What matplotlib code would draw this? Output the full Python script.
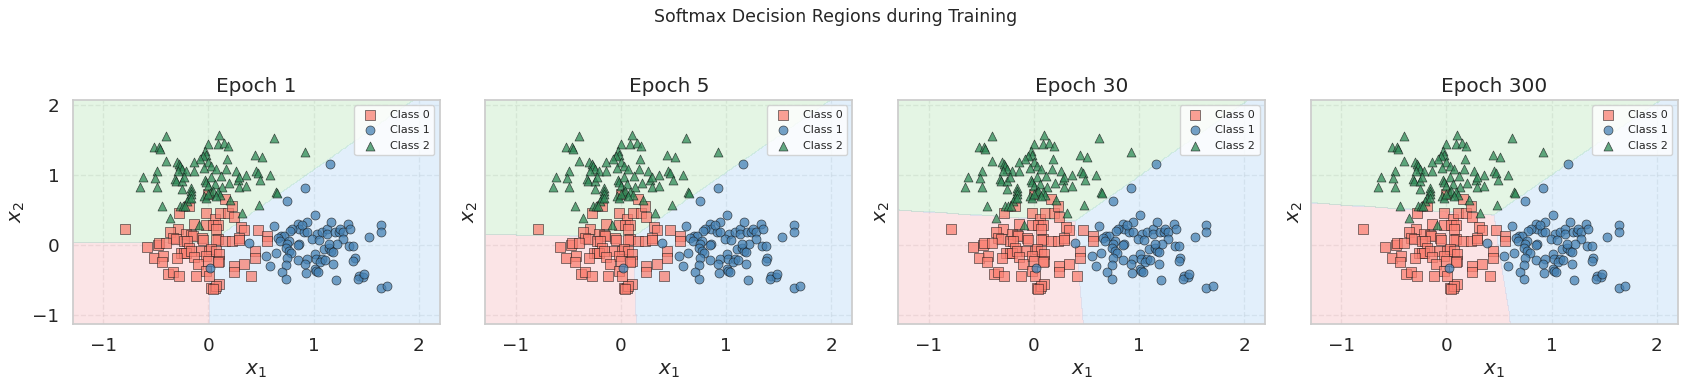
import numpy as np
import matplotlib
matplotlib.use('Agg')
import matplotlib.pyplot as plt
import seaborn as sns

sns.set_theme(style="whitegrid", font_scale=1.2)
plt.rcParams['font.family'] = ['DejaVu Sans']

# points (same data in every panel)
class0_x = [-0.79, -0.28, -0.18, -0.02, 0.00, 0.06, 0.11, 0.19, 0.16, 0.23, 0.24,
            -0.14, -0.02, 0.04, 0.09, 0.07, 0.31, 0.34, 0.47, 0.56, 0.56,
            -0.29, -0.36, -0.34, -0.31, -0.21, -0.16, -0.15, -0.06, -0.05,
            -0.23, -0.20, 0.09, 0.07, 0.16, 0.23, 0.29, 0.29,
            -0.58, -0.48, -0.47, -0.40, -0.18,
            -0.26, -0.23, -0.21, -0.16, -0.07, 0.01, 0.03, 0.07, 0.10, -0.02, 0.44, 0.44,
            -0.52, -0.43, -0.44, -0.30, -0.14, -0.10, 0.00, 0.10, 0.09,
            0.24, 0.24, 0.34,
            -0.38, -0.34, -0.28, -0.12, -0.02, 0.01, 0.41,
            0.03, 0.06, 0.10, 0.07, 0.04]
class0_y = [0.23, 0.45, 0.55, 0.46, 0.73, 0.37, 0.45, 0.46, 0.65, 0.56, 0.40,
            0.30, 0.28, 0.28, 0.28, 0.22, 0.26, 0.21, 0.21, 0.12, 0.06,
            0.22, 0.18, 0.10, 0.09, 0.16, 0.14, 0.13, 0.10, 0.07,
            0.06, 0.06, 0.08, 0.07, 0.06, 0.05, 0.10, 0.07,
            -0.03, 0.00, 0.03, 0.03, -0.04,
            -0.12, -0.12, -0.11, -0.09, -0.09, -0.09, -0.06, -0.09, -0.13, -0.16, -0.09, -0.18,
            -0.18, -0.16, -0.24, -0.19, -0.17, -0.27, -0.23, -0.23, -0.25,
            -0.30, -0.39, -0.27,
            -0.42, -0.39, -0.44, -0.45, -0.37, -0.44, -0.45,
            -0.61, -0.61, -0.56, -0.58, -0.63]

class1_x = [1.16, 0.92, 0.75, 1.01, 0.62, 0.39, 0.02,
            0.85, 0.94, 0.86, 0.80, 0.78, 0.91, 0.94, 0.89,
            0.69, 0.72, 0.66, 0.68,
            1.03, 1.08, 1.13, 1.17, 1.13, 1.20, 1.24, 1.25, 1.28, 1.33, 1.35, 1.28,
            1.64, 1.64, 1.53,
            0.99, 1.05, 0.86, 0.85, 0.77,
            0.75, 0.74, 0.77, 0.79,
            0.64, 0.55,
            0.75, 0.85, 0.94, 1.01, 1.02,
            1.10, 1.15, 1.17, 1.19, 1.22, 1.15,
            1.08, 1.06, 1.01, 1.02, 1.04, 1.11,
            1.19, 0.74, 0.70, 0.74, 0.59,
            0.93, 0.92, 1.21,
            1.34, 1.38, 1.39, 1.38,
            1.43, 1.47, 1.42, 1.48,
            1.64, 1.70]
class1_y = [1.16, 0.81, 0.62, 0.42, 0.27, 0.03, -0.33,
            0.30, 0.32, 0.22, 0.23, 0.20, 0.18, 0.18, 0.28,
            0.13, 0.12, 0.10, 0.06,
            0.16, 0.18, 0.22, 0.32, 0.15, 0.18, 0.18, 0.23, 0.18, 0.30, 0.22, 0.08,
            0.29, 0.18, 0.11,
            0.08, 0.07, 0.02, 0.00, 0.06,
            0.01, -0.04, -0.09, -0.11,
            -0.11, -0.16,
            -0.19, -0.22, -0.20, -0.13, -0.20,
            -0.06, -0.05, -0.09, -0.10, 0.02, 0.02,
            -0.20, -0.25, -0.35, -0.37, -0.39, -0.22,
            -0.27, -0.29, -0.38, -0.49, -0.30,
            -0.40, -0.27, -0.50,
            -0.01, -0.01, -0.19, -0.23,
            -0.44, -0.46, -0.48, -0.41,
            -0.62, -0.59]

class2_x = [-0.40, 0.10, 0.62, 0.92,
            -0.52, -0.47, -0.46,
            0.00, 0.09, 0.15, 0.19,
            -0.03, -0.02, -0.05, -0.08,
            0.44, 0.51,
            -0.40, -0.30, -0.28, -0.27,
            -0.14, 0.00, 0.03, -0.04, 0.18,
            -0.25, -0.21, -0.29, -0.49, -0.14,
            0.07, 0.17, 0.26, 0.45, 0.47, 0.59,
            -0.62, -0.51, -0.32, -0.31, -0.25, -0.23,
            -0.03, -0.02, 0.03, 0.12, 0.20, 0.28, 0.36, 0.29, 0.49,
            -0.65, -0.49, -0.25, -0.16, -0.16, 0.00, 0.06, 0.13, 0.29, 0.36,
            0.64, 0.65,
            -0.16, 0.02, 0.04, 0.09, 0.11, 0.07,
            -0.18, -0.20, -0.16, -0.04, -0.02, 0.00,
            -0.27, -0.24, -0.44, -0.22,
            0.21, 0.48, -0.36, 0.32, -0.09]
class2_y = [1.55, 1.57, 1.52, 1.33,
            1.40, 1.40, 1.37,
            1.44, 1.44, 1.45, 1.41,
            1.34, 1.28, 1.27, 1.22,
            1.28, 1.25,
            1.20, 1.19, 1.16, 1.13,
            1.18, 1.18, 1.13, 1.10, 1.23,
            1.08, 1.06, 1.05, 1.06, 1.06,
            1.08, 1.08, 1.05, 1.05, 1.03, 1.00,
            0.97, 0.96, 0.94, 0.91, 0.91, 0.97,
            0.93, 0.90, 0.97, 0.98, 0.89, 0.93, 1.00, 0.97, 0.92,
            0.82, 0.82, 0.80, 0.81, 0.77, 0.84, 0.87, 0.82, 0.82, 0.84,
            0.76, 0.74,
            0.73, 0.74, 0.77, 0.75, 0.71, 0.70,
            0.67, 0.63, 0.67, 0.70, 0.67, 0.72,
            0.56, 0.55, 0.56, 0.55,
            0.64, 0.57, 0.38, 0.46, 0.28]

# softmax weights per snapshot (rows: class 0, 1, 2), estimated from the boundaries
epochs = [1, 5, 30, 300]
weights = [
    [[0, 0], [1.05, 0.0], [0.0, 1.0]],
    [[0, 0], [1.474, 0.032], [0.03, 1.42]],
    [[0, 0], [3.66, 0.20], [0.32, 3.38]],
    [[0, 0], [5.36, 0.55], [0.51, 5.25]],
]
biases = [
    [0, -0.0105, -0.03],
    [0, -0.181, -0.174],
    [0, -1.50, -1.27],
    [0, -2.65, -2.49],
]

X = np.column_stack([class0_x + class1_x + class2_x, class0_y + class1_y + class2_y])
xmin, xmax = X[:, 0].min() - 0.5, X[:, 0].max() + 0.5
ymin, ymax = X[:, 1].min() - 0.5, X[:, 1].max() + 0.5
xx, yy = np.meshgrid(np.linspace(xmin, xmax, 400), np.linspace(ymin, ymax, 300))
grid = np.c_[xx.ravel(), yy.ravel()]

# region colours in class order: 0 red, 1 blue, 2 green
region_colors = ['#f4a6ad', '#9fcdf5', '#a6e0a6']
classes = [
    (class0_x, class0_y, 's', '#fa8072', 'Class 0'),
    (class1_x, class1_y, 'o', '#4682b4', 'Class 1'),
    (class2_x, class2_y, '^', '#2e8b57', 'Class 2'),
]

fig, axes = plt.subplots(1, 4, figsize=(16.88, 3.9), dpi=100, sharey=True)
for ax, ep, W, b in zip(axes, epochs, weights, biases):
    logits = grid @ np.array(W).T + np.array(b)
    pred = logits.argmax(axis=1).reshape(xx.shape)
    ax.contourf(xx, yy, pred, levels=[-0.5, 0.5, 1.5, 2.5],
                colors=region_colors, alpha=0.3)
    for cx, cy, m, c, lab in classes:
        ax.scatter(cx, cy, marker=m, c=c, s=42, alpha=0.75,
                   edgecolors='k', linewidths=0.5, label=lab)
    ax.set_xlim(xmin, xmax)
    ax.set_ylim(ymin, ymax)
    ax.set_title(f"Epoch {ep}")
    ax.set_xlabel("$x_1$")
    ax.set_ylabel("$x_2$")
    ax.set_xticks([-1, 0, 1, 2])
    ax.set_yticks([-1, 0, 1, 2])
    ax.grid(True, linestyle='--', alpha=0.4)
    ax.legend(loc='upper right', fontsize=8)

fig.suptitle("Softmax Decision Regions during Training", fontsize=12.5, x=0.495)
plt.subplots_adjust(left=0.043, right=0.994, bottom=0.169, top=0.744, wspace=0.124)
plt.savefig("out.png")
